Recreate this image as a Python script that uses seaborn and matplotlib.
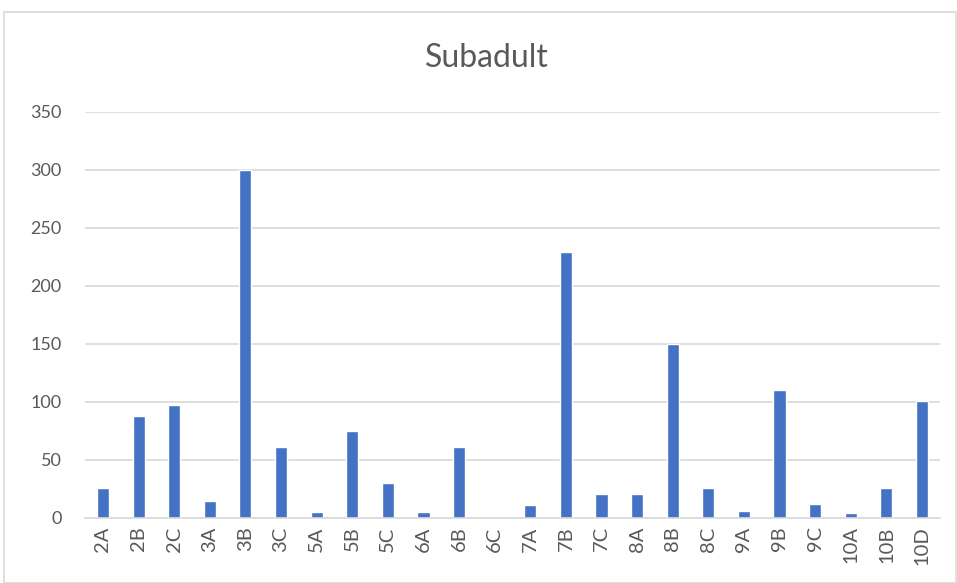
import matplotlib
matplotlib.use("Agg")
import matplotlib.pyplot as plt
import seaborn as sns
import pandas as pd
from matplotlib.patches import Rectangle

categories = ["2A", "2B", "2C", "3A", "3B", "3C", "5A", "5B", "5C", "6A", "6B", "6C",
              "7A", "7B", "7C", "8A", "8B", "8C", "9A", "9B", "9C", "10A", "10B", "10D"]
values = [26, 88, 97, 15, 300, 61, 5, 75, 30, 5, 61, 0,
          11, 229, 21, 21, 150, 26, 6, 110, 12, 4, 26, 101]
yticks = [0, 50, 100, 150, 200, 250, 300, 350]

sns.set_theme(style="white")
plt.rcParams['font.family'] = ['Lato', 'DejaVu Sans']

df = pd.DataFrame({"cat": categories, "val": values})

fig = plt.figure(figsize=(9.57, 5.83), dpi=100)
ax = fig.add_axes([0.089, 0.1115, 0.893, 0.6965])
sns.barplot(data=df, x="cat", y="val", color="#4472C4", width=0.34, saturation=1, ax=ax)

ax.set_ylim(0, 350)
ax.set_yticks(yticks)
ax.set_xlim(-0.5, len(categories) - 0.5)
ax.yaxis.grid(True, color="#D9D9D9", linewidth=1.2)
ax.set_axisbelow(True)
for s in ["top", "right", "left"]:
    ax.spines[s].set_visible(False)
ax.spines["bottom"].set_color("#D9D9D9")
ax.spines["bottom"].set_linewidth(1.2)
ax.set_xlabel("")
ax.set_ylabel("")
ax.tick_params(axis="x", rotation=90, labelsize=14.5, colors="#595959", length=0, pad=6)
ax.tick_params(axis="y", labelsize=13, colors="#595959", length=0, pad=17)
fig.text(0.509, 0.9, "Subadult", ha="center", va="center", fontsize=23, color="#595959")

fig.patches.append(Rectangle((0.004, 0.0), 0.995, 0.979, transform=fig.transFigure,
                             fill=False, edgecolor="#D9D9D9", linewidth=1.2))
fig.savefig("out.png", dpi=100)
